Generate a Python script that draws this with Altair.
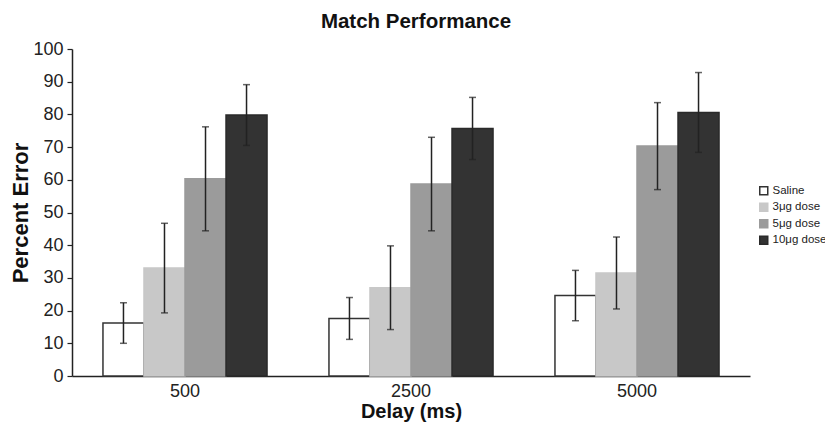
import altair as alt
import pandas as pd

delays = ["500", "2500", "5000"]
doses = ["Saline", "3μg dose", "5μg dose", "10μg dose"]
means = {
    "500": [16.2, 33.0, 60.3, 79.8],
    "2500": [17.6, 27.0, 58.7, 75.7],
    "5000": [24.6, 31.5, 70.3, 80.6],
}
errors = {
    "500": [6.2, 13.7, 15.9, 9.3],
    "2500": [6.4, 12.8, 14.3, 9.5],
    "5000": [7.7, 11.0, 13.3, 12.2],
}
y_ticks = list(range(0, 101, 10))
fill_colors = ["#ffffff", "#c8c8c8", "#9b9b9b", "#333333"]
stroke_colors = ["#333333", "#c8c8c8", "#9b9b9b", "#2a2a2a"]

rows = []
for d in delays:
    for i, dose in enumerate(doses):
        m = means[d][i]
        e = errors[d][i]
        rows.append({"Delay": d, "Dose": dose, "Mean": m, "Lo": m - e, "Hi": m + e})
df = pd.DataFrame(rows)

FONT = "Liberation Sans"

xscale = alt.Scale(paddingInner=0.274, paddingOuter=0.137)
yscale = alt.Scale(domain=[0, 100], nice=False)
xoff = alt.XOffset("Dose:N", sort=doses, scale=alt.Scale(paddingInner=0, paddingOuter=0))

x_enc = alt.X("Delay:N", sort=delays, title="Delay (ms)", scale=xscale)

bars = alt.Chart(df).mark_bar(strokeWidth=1.5).encode(
    x=x_enc,
    xOffset=xoff,
    y=alt.Y("Mean:Q", title="Percent Error", scale=yscale),
    fill=alt.Fill("Dose:N", sort=doses, title=None,
                  scale=alt.Scale(domain=doses, range=fill_colors)),
    stroke=alt.Stroke("Dose:N", sort=doses, title=None,
                      scale=alt.Scale(domain=doses, range=stroke_colors)),
)

rules = alt.Chart(df).mark_rule(color="#222222", strokeWidth=1.5).encode(
    x=x_enc,
    xOffset=xoff,
    y=alt.Y("Lo:Q", title="Percent Error", scale=yscale),
    y2="Hi:Q",
)
caps_hi = alt.Chart(df).mark_tick(color="#222222", size=7, thickness=1.5).encode(
    x=x_enc,
    xOffset=xoff,
    y=alt.Y("Hi:Q", title="Percent Error", scale=yscale),
)
caps_lo = alt.Chart(df).mark_tick(color="#222222", size=7, thickness=1.5).encode(
    x=x_enc,
    xOffset=xoff,
    y=alt.Y("Lo:Q", title="Percent Error", scale=yscale),
)

chart = alt.layer(bars, rules, caps_hi, caps_lo).properties(
    width=678,
    height=327,
    autosize=alt.AutoSizeParams(type="none"),
    padding={"left": 64, "top": 41, "right": 75, "bottom": 49},
    title=alt.TitleParams("Match Performance", fontSize=20.5, fontWeight="bold",
                          font=FONT, anchor="middle", frame="group", dx=5,
                          offset=8, color="#111111"),
).configure(font=FONT).configure_view(stroke=None).configure_axisX(
    labelAngle=0, ticks=False, tickSize=0, labelFontSize=18, labelPadding=6,
    titleFontSize=20, titleFontWeight="bold", titlePadding=1,
    domainColor="#222222", domainWidth=1.5, labelColor="#222222", titleColor="#111111",
    grid=False,
).configure_axisY(
    values=y_ticks, grid=False, tickSize=5, tickWidth=1.2, labelFontSize=18,
    labelPadding=4, labelOverlap=False, titleFontSize=22, titleFontWeight="bold",
    titlePadding=0, domainColor="#222222", domainWidth=1.5, tickColor="#222222",
    labelColor="#222222", titleColor="#111111",
).configure_legend(
    orient="none", legendX=686, legendY=136, labelFontSize=11.5, symbolType="square",
    symbolSize=64, symbolStrokeWidth=1.5, rowPadding=1.5, labelOffset=3,
    labelColor="#222222",
)

chart.save("out.html", embed_options={"renderer": "svg", "actions": False})
